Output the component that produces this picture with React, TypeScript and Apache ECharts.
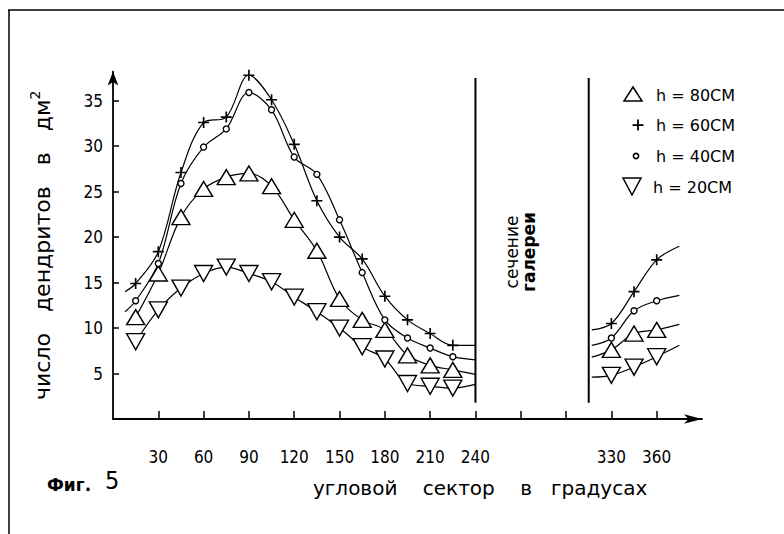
import React, { useEffect, useRef } from "react";
import * as echarts from "echarts";

// ---- data ----
const angleLeft = [15, 30, 45, 60, 75, 90, 105, 120, 135, 150, 165, 180, 195, 210, 225];
const angleRight = [330, 345, 360];

const h80Left = [11.2, 16.0, 22.2, 25.3, 26.6, 27.0, 25.6, 21.9, 18.5, 13.2, 10.9, 9.8, 7.0, 5.9, 5.4];
const h80Right = [7.6, 9.4, 9.8];
const h60Left = [14.9, 18.4, 27.1, 32.6, 33.2, 37.8, 35.1, 30.2, 24.0, 20.0, 17.6, 13.5, 10.9, 9.4, 8.1];
const h60Right = [10.5, 14.0, 17.5];
const h40Left = [13.0, 17.1, 25.9, 29.9, 31.9, 35.9, 34.0, 28.8, 26.9, 21.9, 16.1, 10.9, 8.9, 7.8, 6.85];
const h40Right = [8.9, 11.9, 13.0];
const h20Left = [8.5, 12.0, 14.4, 16.0, 16.7, 16.0, 15.1, 13.4, 11.8, 10.0, 7.95, 6.6, 3.9, 3.6, 3.4];
const h20Right = [4.8, 5.7, 6.85];

// fitted-curve ends: [left start, left end, right start, right end]
const curveEndAngles = [8, 240, 317, 375];
const h80Ends = [null, 4.9, 6.8, 10.4];
const h60Ends = [14.0, 8.1, 9.8, 19.0];
const h40Ends = [11.8, 6.5, 8.1, 13.6];
const h20Ends = [null, 3.8, 4.6, 8.1];

// gallery section boundaries
const galleryAngles = [240, 315];
const galleryRange = [1.8, 37.5];

const xTickValues = [30, 60, 90, 120, 150, 180, 210, 240, 270, 300, 330, 360];
const xLabelValues = [30, 60, 90, 120, 150, 180, 210, 240, 330, 360];
const yTickValues = [5, 10, 15, 20, 25, 30, 35];

const legendLabels = ["h = 80CM", "h = 60CM", "h = 40CM", "h = 20CM"];

const PLUS = "path://M4.25,0h1.5v4.25h4.25v1.5h-4.25v4.25h-1.5v-4.25h-4.25v-1.5h4.25z";
const DOWN = "path://M0,0L20,0L10,17Z";

function segment(
  name: string,
  angles: number[],
  vals: number[],
  startA: number,
  startV: number | null,
  endA: number,
  endV: number | null,
  symbol: string,
  size: any
) {
  const data: any[] = [];
  if (startV !== null) data.push({ value: [startA, startV], symbol: "none", symbolSize: 0 });
  angles.forEach((a, i) => data.push([a, vals[i]]));
  if (endV !== null) data.push({ value: [endA, endV], symbol: "none", symbolSize: 0 });
  const filled = symbol === PLUS;
  return {
    name,
    type: "line",
    data,
    smooth: 0.35,
    symbol,
    symbolSize: size,
    showSymbol: true,
    silent: true,
    emphasis: { disabled: true },
    lineStyle: { color: "#000", width: 1.2 },
    itemStyle: filled
      ? { color: "#000", borderWidth: 0 }
      : { color: "#fff", borderColor: "#000", borderWidth: 1.4 },
    z: 3,
  };
}

function group(name: string, left: number[], right: number[], ends: (number | null)[], symbol: string, size: any) {
  return [
    segment(name, angleLeft, left, curveEndAngles[0], ends[0], curveEndAngles[1], ends[1], symbol, size),
    segment(name + " R", angleRight, right, curveEndAngles[2], ends[2], curveEndAngles[3], ends[3], symbol, size),
  ];
}

export default function App() {
  const ref = useRef<HTMLDivElement>(null);
  useEffect(() => {
    if (!ref.current) return;
    const chart = echarts.init(ref.current, undefined, { renderer: "svg" });
    const labelFont = "'DejaVu Sans Condensed', 'Liberation Sans Narrow', sans-serif";
    const gallerySeries = galleryAngles.map((a) => ({
      type: "line",
      data: [
        [a, galleryRange[0]],
        [a, galleryRange[1]],
      ],
      symbol: "none",
      silent: true,
      lineStyle: { color: "#000", width: 2 },
      z: 2,
    }));
    const legendY = [95, 125, 156, 187];
    const option: any = {
      animation: false,
      backgroundColor: "#fff",
      textStyle: { fontFamily: "'DejaVu Sans', sans-serif", color: "#000" },
      grid: { left: 113, right: 82, top: 71.6, bottom: 115, containLabel: false, outerBoundsMode: "none" },
      xAxis: {
        type: "value",
        min: 0,
        max: 390,
        axisLine: {
          show: true,
          symbol: ["none", "arrow"],
          symbolSize: [7, 18],
          lineStyle: { color: "#000", width: 1.8 },
        },
        axisTick: { show: true, inside: true, length: 8, customValues: xTickValues, lineStyle: { color: "#000", width: 1.5 } },
        axisLabel: { customValues: xLabelValues, margin: 29, fontSize: 17, fontFamily: labelFont, color: "#000" },
        splitLine: { show: false },
      },
      yAxis: {
        type: "value",
        min: 0,
        max: 38.2,
        name: "{t|число   дендритов   в   дм}{s|2}",
        nameLocation: "middle",
        nameRotate: 90,
        nameGap: 57,
        nameMoveOverlap: false,
        nameTextStyle: {
          rich: {
            t: { fontSize: 22, lineHeight: 28, fontFamily: "'DejaVu Sans', sans-serif", color: "#000" },
            s: { fontSize: 14, lineHeight: 14, verticalAlign: "top", fontFamily: "'DejaVu Sans', sans-serif", color: "#000" },
          },
        },
        axisLine: {
          show: true,
          symbol: ["none", "arrow"],
          symbolSize: [8, 14],
          lineStyle: { color: "#000", width: 1.8 },
        },
        axisTick: { show: true, inside: true, length: 6, customValues: yTickValues, lineStyle: { color: "#000", width: 1.5 } },
        axisLabel: { customValues: yTickValues, margin: 10, fontSize: 17, fontFamily: labelFont, color: "#000" },
        splitLine: { show: false },
      },
      series: [
        ...gallerySeries,
        ...group("h80", h80Left, h80Right, h80Ends, "triangle", [18, 15]),
        ...group("h60", h60Left, h60Right, h60Ends, PLUS, 11),
        ...group("h40", h40Left, h40Right, h40Ends, "circle", 6),
        ...group("h20", h20Left, h20Right, h20Ends, DOWN, [18, 16]),
      ],
      graphic: [
        { type: "line", shape: { x1: 8, y1: 10, x2: 784, y2: 10 }, style: { stroke: "#000", lineWidth: 1.5 }, silent: true },
        { type: "line", shape: { x1: 9, y1: 10, x2: 9, y2: 534 }, style: { stroke: "#000", lineWidth: 1.5 }, silent: true },
        {
          type: "text",
          x: 313,
          y: 488,
          style: { text: "угловой    сектор    в   градусах", fontSize: 20, fontFamily: "'DejaVu Sans', sans-serif", fill: "#000", align: "left", verticalAlign: "middle" },
        },
        {
          type: "text",
          x: 47,
          y: 481,
          style: {
            text: "{a|Фиг.}{b|5}",
            align: "left",
            verticalAlign: "middle",
            rich: {
              a: { fontSize: 17, fontWeight: 600, fontFamily: "'DejaVu Sans', sans-serif", fill: "#000", verticalAlign: "bottom", lineHeight: 24 },
              b: { fontSize: 25, fontFamily: "'DejaVu Sans Condensed', sans-serif", fill: "#000", verticalAlign: "bottom", lineHeight: 24, padding: [0, 0, 0, 14] },
            },
          },
        },
        {
          type: "text",
          x: 520,
          y: 252,
          rotation: Math.PI / 2,
          style: {
            text: "{a|сечение}\n{b|галереи}",
            align: "center",
            verticalAlign: "middle",
            rich: {
              a: { fontSize: 17, lineHeight: 17, fontFamily: "'DejaVu Sans', sans-serif", fill: "#000" },
              b: { fontSize: 17, lineHeight: 17, fontWeight: "bold", fontFamily: "'DejaVu Sans', sans-serif", fill: "#000" },
            },
          },
        },
        // legend keys
        { type: "polygon", shape: { points: [[624, 101], [642, 101], [633, 87]] }, style: { fill: "#fff", stroke: "#000", lineWidth: 1.5 } },
        { type: "rect", shape: { x: 632.5, y: 124.2, width: 11, height: 1.8 }, style: { fill: "#000" } },
        { type: "rect", shape: { x: 637.1, y: 119.5, width: 1.8, height: 11 }, style: { fill: "#000" } },
        { type: "circle", shape: { cx: 636, cy: 156, r: 2.6 }, style: { fill: "#fff", stroke: "#000", lineWidth: 1.6 } },
        { type: "polygon", shape: { points: [[623, 178], [641, 178], [632, 195]] }, style: { fill: "#fff", stroke: "#000", lineWidth: 1.5 } },
        ...legendLabels.map((t, i) => ({
          type: "text",
          x: i === 3 ? 653 : 656,
          y: legendY[i],
          style: { text: t, fontSize: 16, fontFamily: "'DejaVu Sans', sans-serif", fill: "#000", align: "left", verticalAlign: "middle" },
        })),
      ],
    };
    chart.setOption(option);
    return () => chart.dispose();
  }, []);
  return <div ref={ref} style={{ position: "fixed", left: 0, top: 0, width: 784, height: 534 }} />;
}
